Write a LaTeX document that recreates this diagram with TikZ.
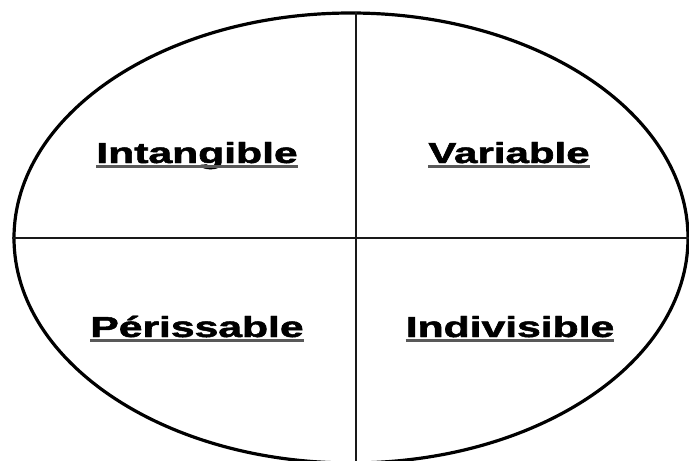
\documentclass[tikz,border=0pt]{standalone}
\usepackage{fontspec}
\setmainfont{Liberation Sans}
\newfontfamily\heavyfont[FakeBold=1.6]{Liberation Sans Bold}
\usepackage{graphicx}
\usetikzlibrary{shapes.geometric}
\begin{document}
\begin{tikzpicture}[x=1pt,y=-1pt,
  lab/.style={inner sep=0pt, anchor=base, font=\fontsize{29}{29}\selectfont\heavyfont},
  uline/.style={draw=black!65, line width=2.4pt},
  divider/.style={draw=black!90, line width=2.8pt},
  oval/.style={draw=black, line width=3.2pt}]
\useasboundingbox (0,0) rectangle (689,461);
\node[oval, ellipse, minimum width=674pt, minimum height=450pt, inner sep=0pt] (e) at (351,238) {};
\coordinate (top) at (356,12);
\coordinate (bot) at (356,461);
\draw[divider] (top) -- (bot);
\draw[divider] (e.west) -- (e.east);
\node[lab] (a) at (197,163) {\scalebox{1.47}[1]{Intangible}};
\node[lab] (b) at (509,163) {\scalebox{1.45}[1]{Variable}};
\node[lab] (c) at (197,337) {\scalebox{1.47}[1]{Périssable}};
\node[lab] (d) at (510,337) {\scalebox{1.47}[1]{Indivisible}};
\foreach \n in {a,b,c,d}{
  \draw[uline] ([yshift=-3.5pt]\n.base west) -- ([yshift=-3.5pt]\n.base east);
}
\end{tikzpicture}
\end{document}
